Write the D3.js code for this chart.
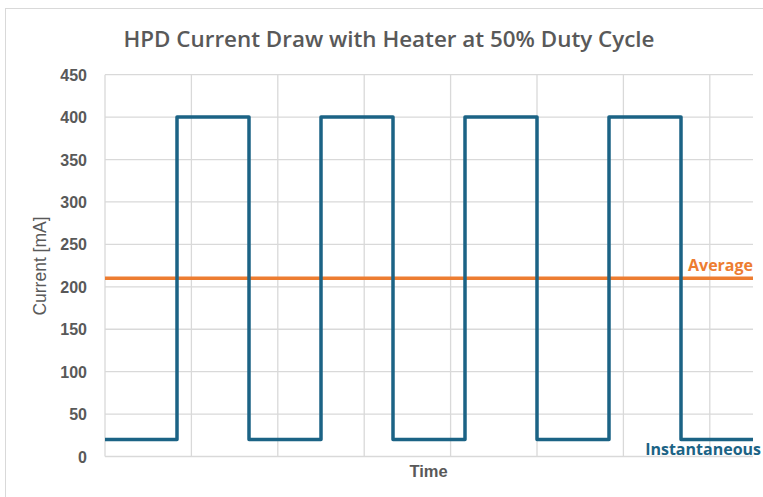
<!DOCTYPE html>
<html>
<head>
<meta charset="utf-8">
<script src="https://cdn.jsdelivr.net/npm/d3@7"></script>
<style>
  html, body { margin: 0; background: #fff; overflow: hidden; }
  svg { display: block; }
  text { fill: #595959; }
</style>
</head>
<body>
<svg id="chart" width="763" height="497"></svg>
<script>
// time in minutes, current in mA
var times = [0, 5, 5, 10, 10, 15, 15, 20, 20, 25, 25, 30, 30, 35, 35, 40, 40, 45];
var current = [20, 20, 400, 400, 20, 20, 400, 400, 20, 20, 400, 400, 20, 20, 400, 400, 20, 20];
var average_time = [0, 45];
var average_current = [210, 210];
var y_ticks = [0, 50, 100, 150, 200, 250, 300, 350, 400, 450];
var x_grid = [0, 6, 12, 18, 24, 30, 36, 42];

var svg = d3.select('#chart');
var margin = {left: 105, right: 10, top: 74.7, bottom: 40.5};
var plot_w = 763 - margin.left - margin.right;
var plot_h = 497 - margin.top - margin.bottom;

var x_scale = d3.scaleLinear().domain([0, 45]).range([margin.left, margin.left + plot_w]);
var y_scale = d3.scaleLinear().domain([0, 450]).range([margin.top + plot_h, margin.top]);

// chart border
svg.append('rect')
  .attr('x', 5.5).attr('y', 8.5)
  .attr('width', 900).attr('height', 700)
  .style('fill', 'none')
  .style('stroke', '#d9d9d9')
  .style('stroke-width', '1px');

// title
svg.append('text')
  .attr('x', 389).attr('y', 47)
  .attr('text-anchor', 'middle')
  .style('font-family', '"Open Sans", sans-serif')
  .style('font-weight', 600)
  .style('font-size', '22.4px')
  .text('HPD Current Draw with Heater at 50% Duty Cycle');

// horizontal grid
svg.append('g')
  .selectAll('.horz_lines')
  .data(y_ticks)
  .enter()
  .append('line')
  .attr('class', 'horz_lines')
  .attr('x1', x_scale(0))
  .attr('x2', x_scale(45))
  .attr('y1', function(d){ return y_scale(d); })
  .attr('y2', function(d){ return y_scale(d); })
  .style('stroke', '#d9d9d9')
  .style('stroke-width', '1.3px');

// vertical grid
svg.append('g')
  .selectAll('.vert_lines')
  .data(x_grid)
  .enter()
  .append('line')
  .attr('class', 'vert_lines')
  .attr('x1', function(d){ return x_scale(d); })
  .attr('x2', function(d){ return x_scale(d); })
  .attr('y1', y_scale(0))
  .attr('y2', y_scale(450))
  .style('stroke', '#d9d9d9')
  .style('stroke-width', '1.3px');

// y axis
var y_axis = d3.axisLeft(y_scale).tickValues(y_ticks).tickSize(0).tickPadding(18);
var y_g = svg.append('g')
  .attr('transform', 'translate(' + margin.left + ',0)')
  .call(y_axis);
y_g.select('.domain').remove();
y_g.selectAll('text')
  .attr('dy', '0.35em')
  .style('font-family', '"Liberation Sans", Arial, sans-serif')
  .style('font-weight', 'bold')
  .style('font-size', '16px')
  .style('fill', '#595959');

// axis titles
svg.append('text')
  .attr('transform', 'translate(46,' + 266 + ') rotate(-90)')
  .attr('text-anchor', 'middle')
  .style('font-family', '"Liberation Sans", Arial, sans-serif')
  .style('font-size', '17.5px')
  .text('Current [mA]');

svg.append('text')
  .attr('x', 428.5).attr('y', 477)
  .attr('text-anchor', 'middle')
  .style('font-family', '"Liberation Sans", Arial, sans-serif')
  .style('font-weight', 'bold')
  .style('font-size', '16.5px')
  .text('Time');

var line = d3.line()
  .x(function(d){ return x_scale(d[0]); })
  .y(function(d){ return y_scale(d[1]); });

// average
svg.append('path')
  .datum(d3.zip(average_time, average_current))
  .attr('d', line)
  .style('fill', 'none')
  .style('stroke', '#ED7D31')
  .style('stroke-width', '3.5px');

// instantaneous
svg.append('path')
  .datum(d3.zip(times, current))
  .attr('d', line)
  .style('fill', 'none')
  .style('stroke', '#1B6385')
  .style('stroke-width', '3.5px')
  .style('stroke-linejoin', 'round');

// series labels
svg.append('text')
  .attr('x', 753).attr('y', 271)
  .attr('text-anchor', 'end')
  .style('font-family', '"Open Sans", sans-serif')
  .style('font-weight', 'bold')
  .style('font-size', '16px')
  .style('fill', '#ED7D31')
  .text('Average');

svg.append('text')
  .attr('x', 761).attr('y', 455)
  .attr('text-anchor', 'end')
  .style('font-family', '"Open Sans", sans-serif')
  .style('font-weight', 'bold')
  .style('font-size', '16px')
  .style('fill', '#1B6385')
  .text('Instantaneous');
</script>
</body>
</html>
